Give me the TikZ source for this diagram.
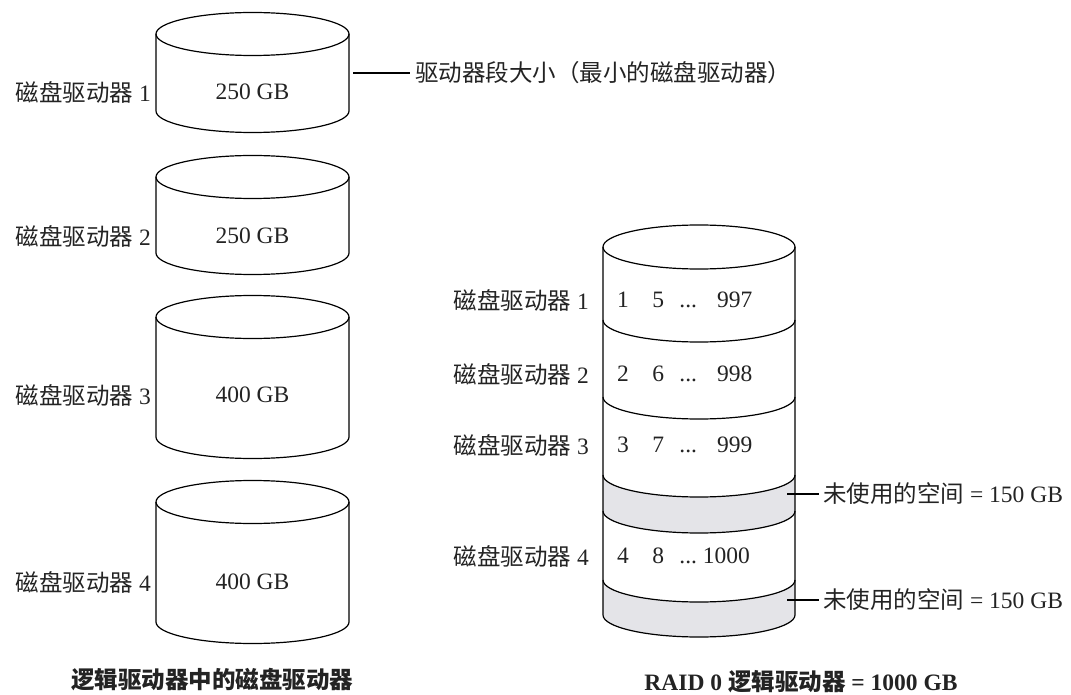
\documentclass[tikz,border=0pt]{standalone}
\usepackage{fontspec}
\setmainfont{Liberation Serif}
\newfontfamily\cjk{Noto Sans CJK SC}
\definecolor{txtcol}{RGB}{35,35,35}
\definecolor{unusedgray}{RGB}{228,228,232}
\newcommand\diskcyl[2]{%
  \draw[outl] (156,#1) -- (156,#2)
    arc[start angle=180,end angle=360,x radius=96.5,y radius=21.5] -- (349,#1);
  \draw[outl] (252.5,#1) ellipse[x radius=96.5,y radius=21.5];
}
\newcommand\lowarc{arc[start angle=180,end angle=360,x radius=96,y radius=22]}
\newcommand\lowarcback{arc[start angle=0,end angle=-180,x radius=96,y radius=22]}
\begin{document}
\begin{tikzpicture}[x=1pt,y=1pt,
  outl/.style={line width=1.2pt,draw=black,line join=round},
  txt/.style={inner sep=0pt,text=txtcol,font=\fontsize{23.5}{28}\selectfont},
  capt/.style={inner sep=0pt,text=txtcol,font=\fontsize{23.5}{28}\selectfont\bfseries}]
\path[use as bounding box] (0,0) rectangle (1071,-695);

% ---- left: the four disk drives ----
\diskcyl{-34}{-111}
\diskcyl{-177}{-253}
\diskcyl{-317}{-437}
\diskcyl{-502}{-622}

\node[txt] (s1) at (252.5,-92) {250 GB};
\node[txt] (s2) at (252.5,-236) {250 GB};
\node[txt] (s3) at (252.5,-395) {400 GB};
\node[txt] (s4) at (252.5,-582) {400 GB};

\node[txt,anchor=east] (l1) at (151,-92) {{\cjk 磁盘驱动器} 1};
\node[txt,anchor=east] (l2) at (151,-236) {{\cjk 磁盘驱动器} 2};
\node[txt,anchor=east] (l3) at (151,-395) {{\cjk 磁盘驱动器} 3};
\node[txt,anchor=east] (l4) at (151,-582) {{\cjk 磁盘驱动器} 4};

\coordinate (c1r) at (353,-73);
\node[txt,inner xsep=5pt,anchor=west] (seg) at (410,-73) {\cjk 驱动器段大小（最小的磁盘驱动器）};
\draw[outl] (c1r) -- (seg.west);

\node[capt] (capl) at (212,-680) {\cjk 逻辑驱动器中的磁盘驱动器};

% ---- right: RAID 0 logical drive ----
\fill[unusedgray] (603,-475) \lowarc -- (795,-511) \lowarcback -- cycle;
\fill[unusedgray] (603,-580) \lowarc -- (795,-615) \lowarcback -- cycle;
\draw[outl] (699,-247) ellipse[x radius=96,y radius=22];
\draw[outl] (603,-247) -- (603,-615) \lowarc -- (795,-247);
\foreach \b in {320,397,475,511,580} \draw[outl] (603,-\b) \lowarc;

\node[txt,anchor=west] (n1) at (617,-300) {1\hspace{1em}5\hspace{0.65em}...\hspace{0.85em}997};
\node[txt,anchor=west] (n2) at (617,-374) {2\hspace{1em}6\hspace{0.65em}...\hspace{0.85em}998};
\node[txt,anchor=west] (n3) at (617,-445) {3\hspace{1em}7\hspace{0.65em}...\hspace{0.85em}999};
\node[txt,anchor=west] (n4) at (617,-556) {4\hspace{1em}8\hspace{0.65em}...\hspace{0.25em}1000};

\node[txt,anchor=east] (r1) at (589,-300) {{\cjk 磁盘驱动器} 1};
\node[txt,anchor=east] (r2) at (589,-374) {{\cjk 磁盘驱动器} 2};
\node[txt,anchor=east] (r3) at (589,-445) {{\cjk 磁盘驱动器} 3};
\node[txt,anchor=east] (r4) at (589,-556) {{\cjk 磁盘驱动器} 4};

\coordinate (u1s) at (787,-494);
\coordinate (u2s) at (787,-600);
\node[txt,inner xsep=4pt,anchor=west] (u1) at (819,-494) {{\cjk 未使用的空间} = 150 GB};
\node[txt,inner xsep=4pt,anchor=west] (u2) at (819,-600) {{\cjk 未使用的空间} = 150 GB};
\draw[outl] (u1s) -- (u1.west);
\draw[outl] (u2s) -- (u2.west);

\node[capt] (capr) at (801,-682) {RAID 0 {\cjk 逻辑驱动器} = 1000 GB};
\end{tikzpicture}
\end{document}
